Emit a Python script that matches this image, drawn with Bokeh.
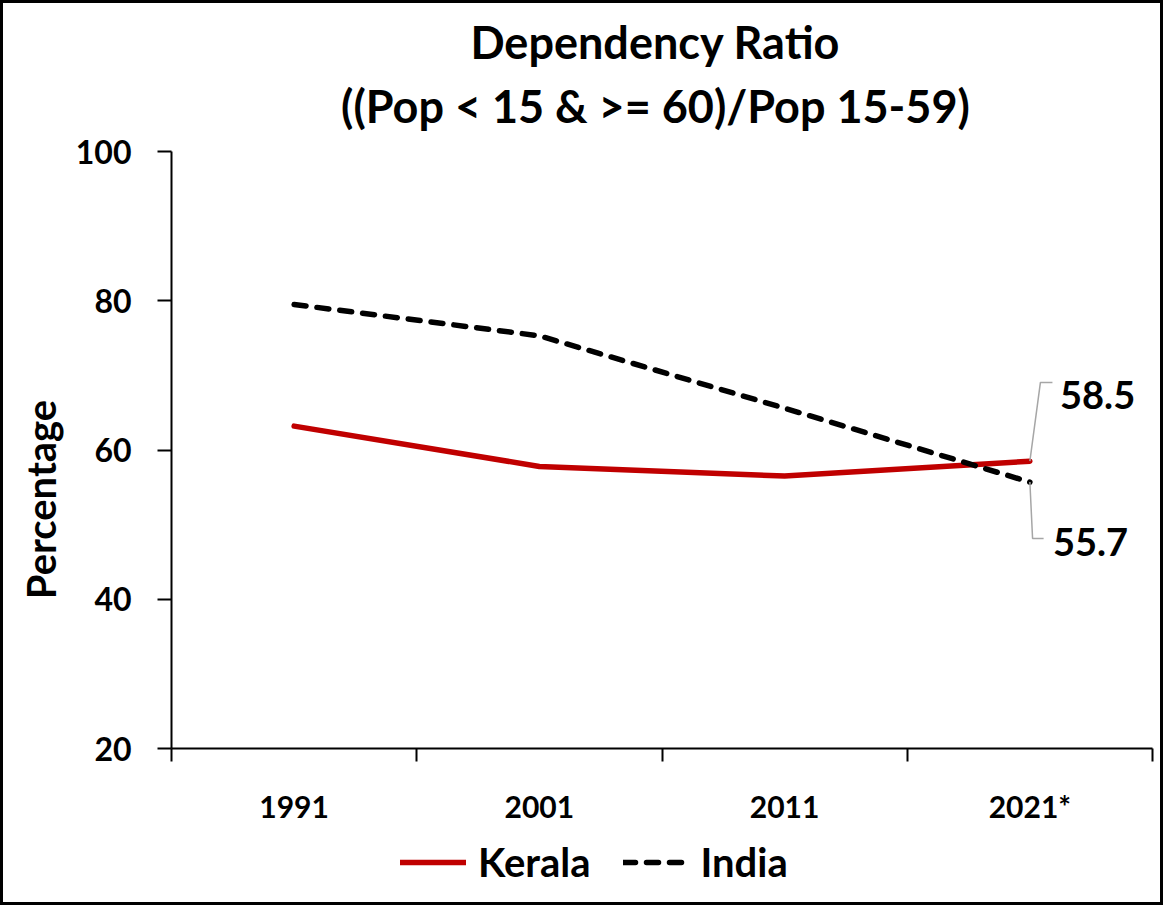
import math
from bokeh.plotting import figure
from bokeh.models import Range1d, FixedTicker, Legend, LegendItem, Label
from bokeh.embed import file_html
from bokeh.resources import INLINE
from bokeh.core.properties import value

# ---- data ----
categories = ["1991", "2001", "2011", "2021*"]
kerala = [63.2, 57.8, 56.5, 58.5]
india = [79.5, 75.3, 65.6, 55.7]
y_ticks = [20, 40, 60, 80, 100]
title_lines = ["Dependency Ratio", "((Pop < 15 & >= 60)/Pop 15-59)"]
y_label = "Percentage"
series_names = ["Kerala", "India"]

FONT = "Lato"
RED = "#C00000"

# ---- layout (canvas pixels) ----
W, H = 1157, 899                 # canvas size
AX_L, AX_R = 168, 1149           # plot-area left/right in canvas px
AX_T, AX_B = 148, 745            # plot-area top/bottom in canvas px

n = len(categories)
xs = [i + 0.5 for i in range(n)]
y0, y1 = y_ticks[0], y_ticks[-1]
xpp = n / (AX_R - AX_L)          # data units per pixel
ypp = (y1 - y0) / (AX_B - AX_T)
x_range = Range1d(0 - AX_L * xpp, n + (W - AX_R) * xpp)
y_range = Range1d(y0 - (H - AX_B) * ypp, y1 + AX_T * ypp)

p = figure(frame_width=W, frame_height=H, x_range=x_range, y_range=y_range,
           output_backend="svg", toolbar_location=None,
           min_border_left=0, min_border_right=0, min_border_top=0, min_border_bottom=0)
p.styles = {"border": "3px solid black", "box-sizing": "content-box"}
p.outline_line_color = None
p.xgrid.visible = False
p.ygrid.visible = False
p.background_fill_color = "white"
p.border_fill_color = "white"

# y axis (fixed at x=0, spanning 20..100)
ya = p.yaxis[0]
ya.fixed_location = 0
ya.bounds = (y0, y1)
ya.ticker = FixedTicker(ticks=y_ticks, minor_ticks=[])
ya.axis_line_width = 2
ya.axis_line_color = "black"
ya.major_tick_line_width = 2
ya.major_tick_out = 14
ya.major_tick_in = 0
ya.minor_tick_line_color = None
ya.major_label_standoff = 26
ya.major_label_text_font = FONT
ya.major_label_text_font_style = "bold"
ya.major_label_text_font_size = "32px"
ya.major_label_text_color = "black"

# x axis (fixed at y=20): labels at category centres, ticks between categories
xa = p.xaxis[0]
xa.fixed_location = y0
xa.bounds = (0, n)
xa.ticker = FixedTicker(ticks=xs, minor_ticks=list(range(n + 1)))
xa.major_label_overrides = {x: c for x, c in zip(xs, categories)}
xa.axis_line_width = 2
xa.axis_line_color = "black"
xa.major_tick_line_color = None
xa.major_tick_out = 0
xa.major_tick_in = 0
xa.minor_tick_line_width = 2
xa.minor_tick_line_color = "black"
xa.minor_tick_out = 13
xa.minor_tick_in = 0
xa.major_label_standoff = 26
xa.major_label_text_font = FONT
xa.major_label_text_font_style = "bold"
xa.major_label_text_font_size = "30px"
xa.major_label_text_color = "black"

# lines
r_k = p.line(xs, kerala, line_color=RED, line_width=5.5, line_cap="round", line_join="round")
r_i = p.line(xs, india, line_color="black", line_width=5.5, line_dash="12 11",
             line_cap="round", line_join="round")

# data labels with leader lines for the last point
last = n - 1
lx = xs[last]
p.line([lx, lx + 0.043, lx + 0.092], [kerala[last], kerala[last] + 10.55, kerala[last] + 10.55],
       line_color="#A6A6A6", line_width=1.5)
p.line([lx, lx + 0.011, lx + 0.056], [india[last], india[last] - 7.56, india[last] - 7.56],
       line_color="#A6A6A6", line_width=1.5)
p.text(x=[lx + 0.123, lx + 0.094], y=[kerala[last] + 8.85, india[last] - 8.0],
       text=[f"{kerala[last]:.1f}", f"{india[last]:.1f}"],
       text_font=value(FONT), text_font_style="bold", text_font_size="38px",
       text_color="black", text_align="left", text_baseline="middle")

# title (screen units measured from canvas bottom-left), placed by baseline
for txt, base in zip(title_lines, [38, 102]):
    p.add_layout(Label(x=652, y=H - base, x_units="screen", y_units="screen", text=txt,
                       text_font=FONT, text_font_style="bold", text_font_size="45px",
                       text_align="center", text_baseline="alphabetic", text_color="black"))

# y axis title
p.add_layout(Label(x=37, y=H - 496, x_units="screen", y_units="screen", text=y_label,
                   angle=math.pi / 2, text_font=FONT, text_font_style="bold",
                   text_font_size="40px", text_align="center", text_baseline="middle",
                   text_color="black"))

legend = Legend(items=[LegendItem(label=series_names[0], renderers=[r_k]),
                       LegendItem(label=series_names[1], renderers=[r_i])],
                orientation="horizontal", location=(397, 16),
                border_line_color=None, background_fill_alpha=0,
                label_text_font=FONT, label_text_font_style="bold",
                label_text_font_size="40px", label_text_color="black",
                glyph_width=66, glyph_height=40, label_standoff=12, spacing=32,
                padding=0, margin=0)
p.add_layout(legend, "center")

open("out.html", "w").write(file_html(p, INLINE))
